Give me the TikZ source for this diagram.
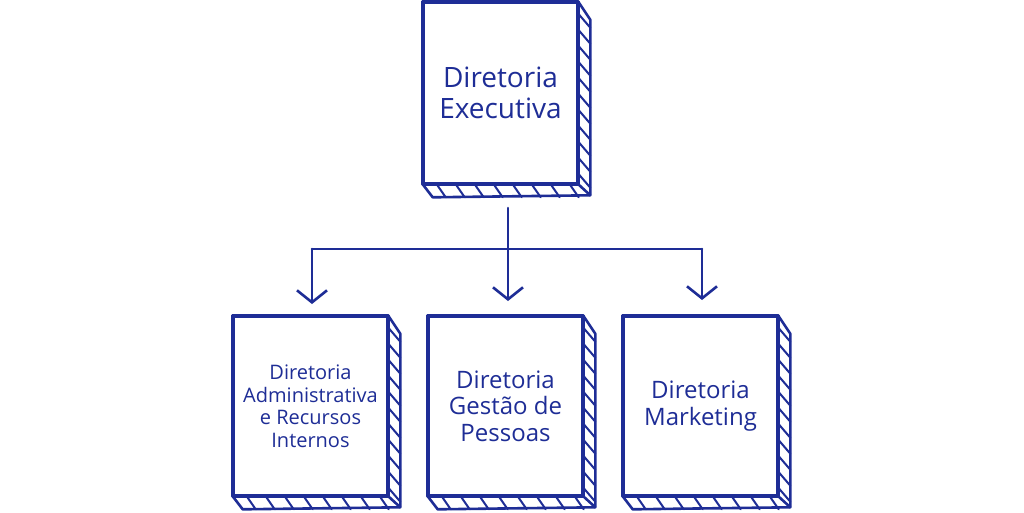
\documentclass[tikz,border=0pt]{standalone}
\usepackage{fontspec}
\setmainfont{Open Sans}
\usetikzlibrary{calc,arrows.meta}
\definecolor{ink}{RGB}{30,45,150}
\tikzset{
  ln/.style={draw=ink,line width=2.6pt,line join=round,line cap=round},
  hatch/.style={draw=ink,line width=2pt,line cap=round},
  card/.style={ln,fill=white,minimum width=153pt,inner sep=0pt,align=center,text=ink},
  conn/.style={ln,-{Straight Barb[length=12pt,width=30pt,line width=2.6pt]}},
}
\newcommand\slab[1]{%
  \fill[white] (#1.north east) -- ++(12,18) -- ($(#1.south east)+(12,11)$) -- ($(#1.south west)+(10,13)$) -- (#1.south west) -- (#1.south east) -- cycle;
  \foreach \t in {16,32,...,176}{
    \draw[hatch] ($(#1.north east)+(0,\t-4)$) -- ($(#1.north east)+(12,\t+10)$);
  }
  \foreach \t in {14,33,...,150}{
    \draw[hatch] ($(#1.south west)+(\t,0)$) -- ($(#1.south west)+(\t+9,13)$);
  }
  \draw[ln] (#1.north east) -- ++(12,18) -- ($(#1.south east)+(12,11)$) -- ($(#1.south west)+(10,13)$) -- (#1.south west);
  \draw[ln] (#1.south east) -- ($(#1.south east)+(12,11)$);
  \draw[ln] (#1.north west) rectangle (#1.south east);
}
\begin{document}
\begin{tikzpicture}[x=1pt,y=-1pt]
\useasboundingbox (0,0) rectangle (1024,512);
\node[card,minimum height=180pt,font=\fontsize{28}{31}\selectfont] (exec) at (500.5,93)
  {Diretoria\\Executiva};
\node[card,minimum height=178pt,font=\fontsize{20}{22.5}\selectfont] (adm) at (310.5,406)
  {Diretoria\\Administrativa\\e Recursos\\Internos};
\node[card,minimum height=178pt,font=\fontsize{24}{26.5}\selectfont] (gp) at (505.5,406)
  {Diretoria\\Gestão de\\Pessoas};
\node[card,minimum height=178pt,font=\fontsize{24}{26.5}\selectfont] (mkt) at (700.5,406)
  {Diretoria\\Marketing};
\slab{exec}\slab{adm}\slab{gp}\slab{mkt}
\coordinate (lj) at (312,249);
\coordinate (rj) at (702,249);
\draw[ln] (lj) -- (rj);
\draw[conn] (508,208) -- (508,301);
\draw[conn] (lj) -- (312,304);
\draw[conn] (rj) -- (702,300);
\end{tikzpicture}
\end{document}
